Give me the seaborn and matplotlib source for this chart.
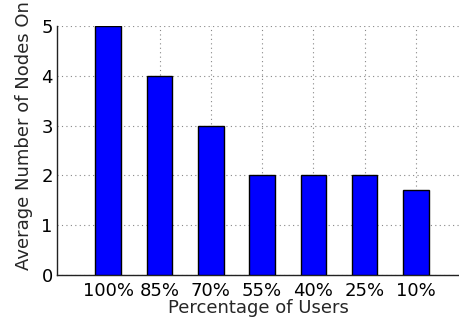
import matplotlib
matplotlib.use("Agg")
import matplotlib.pyplot as plt
import seaborn as sns
import pandas as pd

categories = ["100%", "85%", "70%", "55%", "40%", "25%", "10%"]
avg_nodes_on = [5, 4, 3, 2, 2, 2, 1.7]
y_ticks = [0, 1, 2, 3, 4, 5]

sns.set_style("white")
plt.rcParams["font.family"] = ["DejaVu Sans"]

df = pd.DataFrame({"users": categories, "nodes": avg_nodes_on})

fig = plt.figure(figsize=(4.59, 3.24), dpi=100)
ax = fig.add_axes([57 / 459, 49 / 324, 1 - 57 / 459, 249 / 324])

sns.barplot(data=df, x="users", y="nodes", ax=ax, color="#0000ff",
            saturation=1, width=0.5, edgecolor="black", linewidth=1.0,
            zorder=3)

ax.set_xlim(-1, 6.84)
ax.set_ylim(0, 5)
ax.set_yticks(y_ticks)
ax.grid(True, which="major", axis="both", linestyle=(0, (1, 3)),
        color="#888888", linewidth=0.8, zorder=0)
ax.set_axisbelow(True)

for side in ("top", "right"):
    ax.spines[side].set_visible(False)
for side in ("left", "bottom"):
    ax.spines[side].set_color("#222222")
    ax.spines[side].set_linewidth(1.0)

ax.tick_params(axis="both", length=0, labelsize=13, colors="black")
ax.tick_params(axis="x", pad=5)
ax.tick_params(axis="y", pad=3)

ax.set_xlabel("Percentage of Users", fontsize=13, labelpad=-1)
ax.set_ylabel("Average Number of Nodes On", fontsize=13)
ax.yaxis.set_label_coords(-0.06, 0.56)

fig.savefig("out.png", dpi=100)
